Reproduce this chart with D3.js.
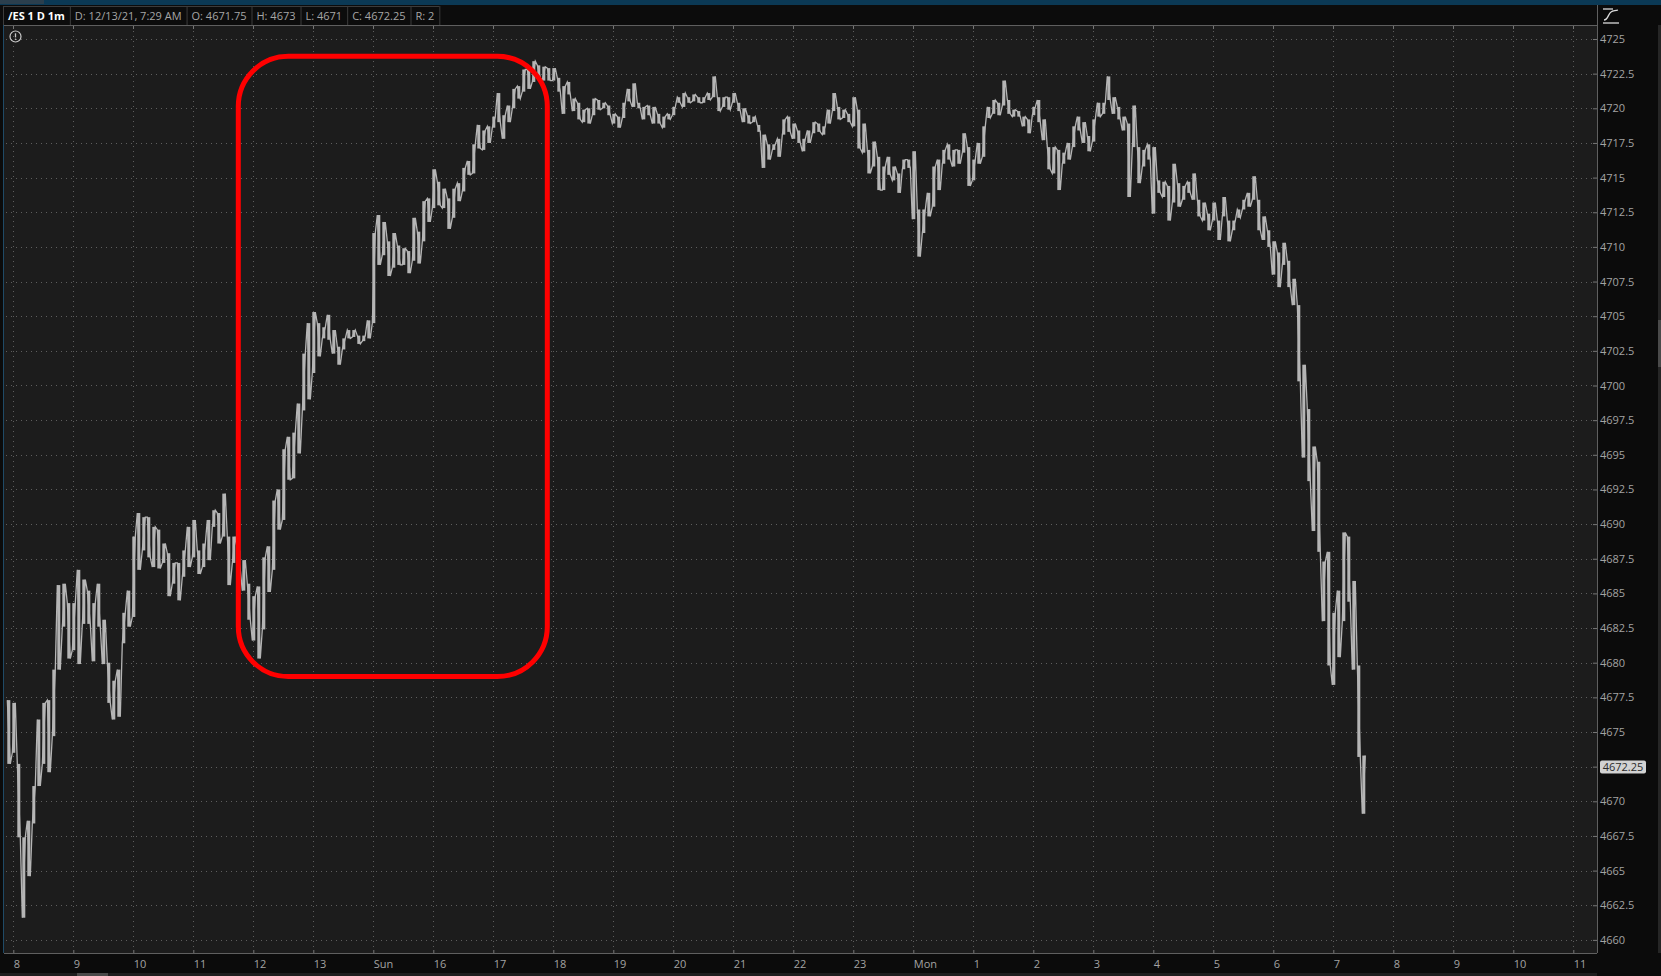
<!DOCTYPE html>
<html>
<head>
<meta charset="utf-8">
<script src="https://cdn.jsdelivr.net/npm/d3@7"></script>
<style>
  html, body { margin: 0; padding: 0; background: #0b0b0b; overflow: hidden; }
  svg { display: block; font-family: "Open Sans", "Noto Sans", sans-serif; }
</style>
</head>
<body>
<svg id="chart" width="1661" height="976"></svg>
<script>
// /ES 1 D 1m, Fri 7:53 -> Mon 7:29. 5-minute high/low envelope.
// minutes counted from Fri 8:00; the Fri 14:00 -> Sun 15:00 break takes no room on the axis
const barStart = -7;
const barStep = 5;

const highs = [
  4677.3, 4677.1, 4672.7, 4667.4, 4668.6, 4671.1, 4675.9, 4677.1, 4677.3, 4679.5,
  4685.6, 4685.7, 4684.3, 4684.3, 4686.7, 4686.0, 4685.2, 4684.3, 4685.7, 4683.1,
  4680.0, 4678.7, 4679.5, 4683.6, 4685.2, 4689.1, 4690.8, 4690.5, 4690.5, 4689.8,
  4689.6, 4688.6, 4687.9, 4687.2, 4687.2, 4688.1, 4689.8, 4690.3, 4688.1, 4688.6,
  4690.3, 4691.0, 4690.8, 4692.2, 4689.1, 4689.1, 4688.1, 4687.4, 4685.7, 4684.8,
  4685.5, 4687.6, 4688.4, 4691.7, 4692.5, 4695.4, 4696.3, 4696.6, 4698.7, 4702.3,
  4704.5, 4705.3, 4704.5, 4704.2, 4705.1, 4704.0, 4702.8, 4703.4, 4704.0, 4704.0,
  4703.6, 4703.6, 4704.7, 4711.0, 4712.3, 4711.8, 4710.4, 4711.0, 4710.1, 4709.9,
  4709.7, 4712.1, 4711.1, 4713.3, 4713.5, 4715.6, 4714.7, 4714.2, 4713.5, 4714.2,
  4714.6, 4715.7, 4716.2, 4717.4, 4718.8, 4718.4, 4718.7, 4719.4, 4721.1, 4719.5,
  4720.2, 4721.4, 4721.6, 4722.8, 4722.8, 4723.4, 4723.1, 4723.0, 4722.9, 4722.9,
  4722.2, 4721.6, 4721.9, 4720.7, 4720.4, 4719.9, 4720.0, 4720.7, 4720.6, 4720.4,
  4720.2, 4719.6, 4719.4, 4720.4, 4721.4, 4721.8, 4720.4, 4720.1, 4720.2, 4720.1,
  4719.6, 4719.4, 4719.6, 4720.1, 4720.8, 4721.1, 4720.8, 4721.0, 4720.8, 4720.8,
  4721.1, 4722.3, 4720.8, 4720.8, 4720.8, 4721.1, 4720.4, 4720.0, 4719.5, 4719.4,
  4718.8, 4718.1, 4717.4, 4717.4, 4717.8, 4719.2, 4719.4, 4718.9, 4718.4, 4717.8,
  4718.4, 4719.0, 4718.9, 4718.7, 4719.9, 4721.1, 4720.1, 4719.9, 4719.6, 4720.8,
  4719.9, 4718.9, 4717.0, 4717.6, 4716.5, 4715.8, 4716.5, 4715.8, 4715.3, 4716.3,
  4716.3, 4716.9, 4712.7, 4712.7, 4713.9, 4715.8, 4716.3, 4717.0, 4717.4, 4717.0,
  4717.0, 4718.2, 4717.2, 4716.3, 4717.5, 4718.7, 4720.1, 4720.6, 4720.4, 4722.0,
  4720.6, 4719.9, 4719.8, 4719.4, 4719.2, 4720.1, 4720.6, 4719.2, 4717.2, 4717.2,
  4717.0, 4716.8, 4717.5, 4718.7, 4719.4, 4719.0, 4718.0, 4719.2, 4720.4, 4720.4,
  4722.3, 4720.8, 4720.1, 4719.4, 4718.9, 4720.2, 4717.2, 4717.0, 4717.4, 4717.2,
  4714.8, 4714.7, 4714.4, 4716.0, 4714.6, 4714.4, 4714.7, 4715.3, 4713.4, 4713.2,
  4712.4, 4713.2, 4711.9, 4713.6, 4711.9, 4711.9, 4712.7, 4713.4, 4713.9, 4715.1,
  4713.4, 4712.2, 4711.2, 4710.4, 4709.6, 4710.3, 4709.0, 4707.7, 4705.8, 4701.5,
  4698.3, 4695.6, 4694.5, 4687.3, 4688.0, 4683.6, 4685.2, 4689.4, 4689.1, 4685.9,
  4679.8, 4673.3
];

const lows = [
  4672.7, 4673.5, 4667.4, 4661.6, 4664.6, 4668.4, 4671.1, 4672.7, 4672.1, 4674.7,
  4679.5, 4682.6, 4680.3, 4680.9, 4679.9, 4682.8, 4682.8, 4680.1, 4682.6, 4679.9,
  4677.1, 4675.9, 4676.1, 4681.4, 4682.6, 4683.3, 4686.7, 4688.1, 4687.6, 4686.9,
  4686.8, 4687.2, 4684.8, 4685.7, 4684.5, 4686.2, 4686.9, 4687.6, 4686.4, 4686.9,
  4687.4, 4689.8, 4688.6, 4689.1, 4685.6, 4687.2, 4686.7, 4685.2, 4683.1, 4681.6,
  4680.3, 4682.4, 4685.1, 4686.7, 4689.6, 4690.3, 4693.2, 4693.3, 4695.1, 4698.2,
  4699.0, 4700.9, 4702.1, 4703.4, 4703.3, 4702.3, 4701.5, 4702.6, 4703.4, 4703.5,
  4703.0, 4703.2, 4703.4, 4704.5, 4708.7, 4709.4, 4707.9, 4708.5, 4708.7, 4708.7,
  4708.1, 4709.0, 4708.8, 4710.4, 4711.8, 4712.8, 4713.0, 4712.8, 4711.3, 4712.1,
  4713.3, 4714.0, 4715.2, 4715.3, 4717.1, 4717.0, 4717.5, 4718.6, 4719.0, 4717.8,
  4719.0, 4720.0, 4720.7, 4721.2, 4721.4, 4721.9, 4722.2, 4722.0, 4722.0, 4722.0,
  4721.2, 4719.6, 4721.0, 4719.8, 4719.2, 4719.0, 4718.9, 4719.5, 4719.9, 4720.0,
  4719.5, 4718.9, 4718.6, 4719.3, 4720.5, 4720.1, 4720.0, 4719.2, 4719.5, 4718.9,
  4718.9, 4718.6, 4719.2, 4719.5, 4720.4, 4720.1, 4720.4, 4720.5, 4720.4, 4720.4,
  4720.6, 4720.8, 4719.8, 4720.1, 4719.9, 4720.4, 4719.8, 4719.0, 4718.9, 4719.0,
  4718.3, 4715.7, 4716.3, 4717.0, 4716.5, 4718.1, 4718.3, 4717.8, 4717.5, 4716.9,
  4717.5, 4718.2, 4718.3, 4718.1, 4718.9, 4719.8, 4719.2, 4719.3, 4719.0, 4718.7,
  4717.1, 4716.8, 4715.3, 4715.8, 4714.1, 4714.1, 4715.2, 4714.8, 4713.9, 4715.6,
  4715.7, 4712.0, 4709.3, 4711.0, 4712.2, 4712.9, 4714.1, 4716.0, 4716.3, 4715.8,
  4716.0, 4716.8, 4714.4, 4714.8, 4716.0, 4716.5, 4719.3, 4719.6, 4719.5, 4720.2,
  4719.6, 4719.4, 4719.4, 4718.7, 4718.2, 4719.5, 4719.0, 4717.7, 4715.6, 4715.3,
  4714.1, 4716.0, 4716.3, 4717.2, 4718.4, 4717.5, 4716.9, 4717.6, 4719.4, 4719.6,
  4720.6, 4719.6, 4719.2, 4718.4, 4713.6, 4717.2, 4714.6, 4715.8, 4716.3, 4712.4,
  4713.9, 4713.6, 4711.9, 4713.2, 4712.9, 4713.4, 4713.9, 4713.4, 4712.2, 4711.9,
  4711.2, 4711.9, 4710.5, 4712.2, 4710.4, 4711.2, 4712.1, 4712.7, 4712.9, 4713.4,
  4711.2, 4710.5, 4710.0, 4708.0, 4707.1, 4708.7, 4707.1, 4705.8, 4700.3, 4694.8,
  4693.1, 4689.5, 4688.0, 4683.0, 4679.8, 4678.4, 4680.4, 4683.0, 4684.4, 4679.5,
  4673.2, 4669.1
];

const hourLabels = ["8", "9", "10", "11", "12", "13", "Sun", "16", "17", "18", "19", "20", "21",
  "22", "23", "Mon", "1", "2", "3", "4", "5", "6", "7", "8", "9", "10", "11"];
const priceTicks = [4660, 4662.5, 4665, 4667.5, 4670, 4672.5, 4675, 4677.5, 4680, 4682.5,
  4685, 4687.5, 4690, 4692.5, 4695, 4697.5, 4700, 4702.5, 4705, 4707.5, 4710, 4712.5,
  4715, 4717.5, 4720, 4722.5, 4725];
const lastPrice = 4672.25;
const headerItems = ["/ES 1 D 1m", "D: 12/13/21, 7:29 AM", "O: 4671.75", "H: 4673", "L: 4671", "C: 4672.25", "R: 2"];
// hand drawn box around the Sunday evening rally (minutes / prices)
const markBox = { from: 225, to: 534, top: 4723.75, bottom: 4679.0 };

const width = 1661, height = 976;
const plot = { left: 4, right: 1597, top: 25, bottom: 953 };
const axisColor = "#a3a3a3";
const barColor = "#b5b5b5";
const font = '"Open Sans", "Noto Sans", sans-serif';

const svg = d3.select("#chart");

const x = d3.scaleLinear()
    .domain([-9.3, 1583.7])
    .range([plot.left, plot.right]);

const y = d3.scaleLinear()
    .domain([4660, 4725])
    .range([939.9, 39]);

const hourMinutes = hourLabels.map((d, i) => i * 60);

// backgrounds
svg.append("rect").attr("width", width).attr("height", height).attr("fill", "#0b0b0b");
svg.append("rect").attr("width", width).attr("height", 5).attr("fill", "#0b3955");
svg.append("rect").attr("x", 0).attr("y", 0).attr("width", 44).attr("height", 4).attr("fill", "#2b3f4d");
svg.append("rect")
    .attr("x", plot.left).attr("y", plot.top)
    .attr("width", plot.right - plot.left).attr("height", plot.bottom - plot.top)
    .attr("fill", "#1c1c1c");

// dotted grid
const grid = svg.append("g")
    .attr("stroke", "#5e5e5e")
    .attr("stroke-dasharray", "1,4");

grid.selectAll("line.h")
  .data(priceTicks)
  .join("line")
    .attr("class", "h")
    .attr("x1", plot.left + 2).attr("x2", plot.right - 5)
    .attr("y1", d => Math.round(y(d)) + 0.5)
    .attr("y2", d => Math.round(y(d)) + 0.5);

grid.selectAll("line.v")
  .data(hourMinutes)
  .join("line")
    .attr("class", "v")
    .attr("x1", d => Math.round(x(d)) + 0.5).attr("x2", d => Math.round(x(d)) + 0.5)
    .attr("y1", plot.top + 6).attr("y2", plot.bottom - 4);

// top tick marks
svg.append("g")
    .attr("stroke", "#777")
  .selectAll("line")
  .data(hourMinutes)
  .join("line")
    .attr("x1", d => Math.round(x(d)) + 0.5).attr("x2", d => Math.round(x(d)) + 0.5)
    .attr("y1", plot.top).attr("y2", plot.top + 4);

// price trace: each 5-minute envelope as a thin bar, stitched by a zigzag hi/lo line
const bars = highs.map((h, i) => ({ m: barStart + i * barStep, hi: h, lo: lows[i] }));

const priceG = svg.append("g");

priceG.selectAll("rect")
  .data(bars)
  .join("rect")
    .attr("fill", barColor)
    .attr("x", d => x(d.m + 1))
    .attr("width", x(3) - x(0))
    .attr("y", d => y(d.hi))
    .attr("height", d => Math.max(1, y(d.lo) - y(d.hi)));

const zig = [];
bars.forEach((d, i) => {
  const upFirst = i % 2 === 0;
  zig.push([x(d.m + 1), y(upFirst ? d.hi : d.lo)]);
  zig.push([x(d.m + 4), y(upFirst ? d.lo : d.hi)]);
});

priceG.append("path")
    .attr("d", d3.line()(zig))
    .attr("fill", "none")
    .attr("stroke", barColor)
    .attr("stroke-width", 1.3)
    .attr("stroke-linejoin", "miter");

// frame lines
const frame = svg.append("g").attr("stroke", "#5f5f5f").attr("shape-rendering", "crispEdges");
frame.append("line").attr("x1", 3).attr("x2", plot.right).attr("y1", plot.top).attr("y2", plot.top);
frame.append("line").attr("x1", plot.left).attr("x2", plot.right).attr("y1", plot.bottom).attr("y2", plot.bottom);
frame.append("line").attr("x1", plot.right).attr("x2", plot.right).attr("y1", 5).attr("y2", plot.bottom);
svg.append("line")
    .attr("x1", 3.5).attr("x2", 3.5).attr("y1", plot.top).attr("y2", plot.bottom)
    .attr("stroke", "#1f4a66");

// x axis
svg.append("g")
    .attr("transform", `translate(0,${plot.bottom})`)
    .call(d3.axisBottom(x)
        .tickValues(hourMinutes)
        .tickFormat((d, i) => hourLabels[i])
        .tickSize(-3)
        .tickPadding(7))
    .call(g => g.select(".domain").remove())
    .call(g => g.selectAll(".tick line").attr("stroke", "#777"))
    .call(g => g.selectAll(".tick text")
        .attr("text-anchor", "start")
        .attr("fill", axisColor)
        .attr("font-size", 11)
        .attr("font-family", font));

// y axis on the right
svg.append("g")
    .attr("transform", `translate(${plot.right},0)`)
    .call(d3.axisRight(y)
        .tickValues(priceTicks)
        .tickFormat(d => Math.abs(d - lastPrice) < 1 ? "" : String(d))
        .tickSize(-4)
        .tickPadding(3))
    .call(g => g.select(".domain").remove())
    .call(g => g.selectAll(".tick line").attr("stroke", "#777"))
    .call(g => g.selectAll(".tick text")
        .attr("fill", axisColor)
        .attr("font-size", 11)
        .attr("font-family", font));

// last price tag
const tagY = y(lastPrice) - 3;
svg.append("rect")
    .attr("x", plot.right + 3).attr("y", tagY - 6.5)
    .attr("width", 46).attr("height", 13).attr("rx", 2)
    .attr("fill", "#d2d2d2");
svg.append("text")
    .attr("x", plot.right + 26).attr("y", tagY)
    .attr("dy", "0.35em")
    .attr("text-anchor", "middle")
    .attr("font-size", 11)
    .attr("fill", "#2a2a2a")
    .text(lastPrice);

// header strip
svg.append("rect").attr("x", 0).attr("y", 5).attr("width", plot.right).attr("height", 20).attr("fill", "#0c0c0c");
const hdr = svg.append("g").attr("font-size", 11).attr("font-family", font);
let hx = 3;
headerItems.forEach((t, i) => {
  const txt = hdr.append("text")
      .attr("x", hx + 5).attr("y", 19.5)
      .attr("fill", i === 0 ? "#ffffff" : "#a6a6a6")
      .attr("font-weight", i === 0 ? 700 : 400)
      .text(t);
  hdr.append("line")
      .attr("x1", hx + 0.5).attr("x2", hx + 0.5).attr("y1", 6).attr("y2", 25)
      .attr("stroke", "#3c3c3c");
  hx += txt.node().getComputedTextLength() + 10;
});
hdr.append("line")
    .attr("x1", hx + 0.5).attr("x2", hx + 0.5).attr("y1", 6).attr("y2", 25)
    .attr("stroke", "#3c3c3c");
hdr.append("line")
    .attr("x1", 3).attr("x2", hx).attr("y1", 6.5).attr("y2", 6.5)
    .attr("stroke", "#3c3c3c");

// info icon
svg.append("circle")
    .attr("cx", 15.5).attr("cy", 36.5).attr("r", 5.5)
    .attr("fill", "none").attr("stroke", "#c8c8c8").attr("stroke-width", 1.2);
svg.append("line")
    .attr("x1", 15.5).attr("x2", 15.5).attr("y1", 33.3).attr("y2", 37.4)
    .attr("stroke", "#c8c8c8").attr("stroke-width", 1.3);
svg.append("circle").attr("cx", 15.5).attr("cy", 39.3).attr("r", 0.8).attr("fill", "#c8c8c8");

// style icon at the top right
const icon = svg.append("g").attr("stroke", "#dcdcdc").attr("fill", "none").attr("stroke-width", 1.3);
icon.append("line").attr("x1", 1603).attr("x2", 1613).attr("y1", 9).attr("y2", 9);
icon.append("path").attr("d", "M1604,20 C1608,20 1608,14 1611,12 C1613,10.5 1615,11 1618,10");
icon.append("line").attr("x1", 1603).attr("x2", 1619).attr("y1", 23).attr("y2", 23);

// scrollbars
svg.append("rect").attr("x", 1658).attr("y", 25).attr("width", 3).attr("height", 928).attr("fill", "#262626");
svg.append("rect").attr("x", 1658).attr("y", 320).attr("width", 3).attr("height", 47).attr("fill", "#4a4a4a");
svg.append("rect").attr("x", 0).attr("y", 973).attr("width", 1597).attr("height", 3).attr("fill", "#1e1e1e");
svg.append("rect").attr("x", 77).attr("y", 973).attr("width", 31).attr("height", 3).attr("fill", "#4a4a4a");

// red highlight box
svg.append("rect")
    .attr("x", x(markBox.from)).attr("y", y(markBox.top))
    .attr("width", x(markBox.to) - x(markBox.from))
    .attr("height", y(markBox.bottom) - y(markBox.top))
    .attr("rx", 50).attr("ry", 50)
    .attr("fill", "none")
    .attr("stroke", "#ff0000")
    .attr("stroke-width", 5);
</script>
</body>
</html>
